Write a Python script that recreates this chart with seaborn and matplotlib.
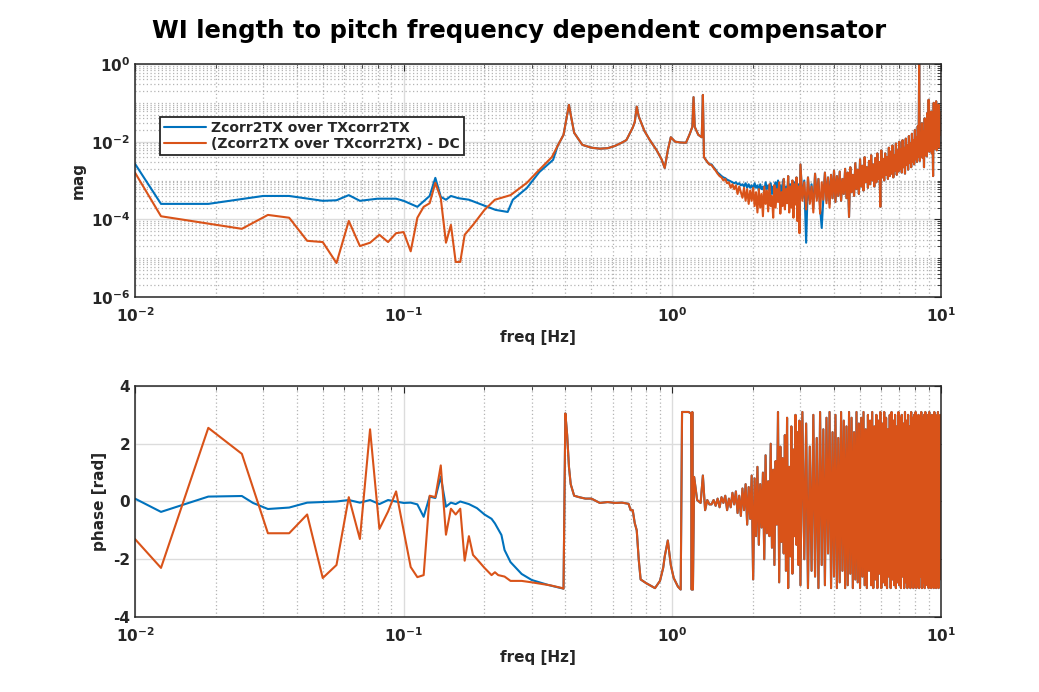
import numpy as np
import matplotlib
matplotlib.use("Agg")
import matplotlib.pyplot as plt
import matplotlib.ticker as mticker
import seaborn as sns

# ---- data ----
# low frequency part, magnitude
blue_lo_freq = [0.0100, 0.0125, 0.01875, 0.0300, 0.0375, 0.0500, 0.05625, 0.0625, 0.06875,
                0.0800, 0.09375, 0.1000, 0.1125, 0.1250, 0.13125, 0.1375, 0.14375, 0.1500,
                0.1600, 0.1750, 0.1950, 0.2200, 0.2440, 0.2550, 0.2875, 0.3200, 0.3600]
blue_lo_mag = [2.7e-3, 2.5e-4, 2.5e-4, 4.0e-4, 4.0e-4, 3.0e-4, 3.1e-4, 4.2e-4, 3.0e-4,
               3.4e-4, 3.4e-4, 3.0e-4, 2.1e-4, 4.0e-4, 1.17e-3, 3.8e-4, 3.2e-4, 4.0e-4,
               3.5e-4, 3.2e-4, 2.4e-4, 1.75e-4, 1.55e-4, 3.2e-4, 6.4e-4, 1.65e-3, 3.4e-3]

orng_lo_freq = [0.0100, 0.0125, 0.0250, 0.03125, 0.0375, 0.04375, 0.0500, 0.05625, 0.0625,
                0.06875, 0.0750, 0.08125, 0.0875, 0.09375, 0.1000, 0.10625, 0.1125, 0.11875,
                0.1250, 0.13125, 0.1375, 0.14375, 0.1500, 0.15625, 0.1625, 0.16875, 0.18125,
                0.2000, 0.21875, 0.2500, 0.2875, 0.3125, 0.35625]
orng_lo_mag = [1.6e-3, 1.2e-4, 5.7e-5, 1.3e-4, 1.1e-4, 2.8e-5, 2.6e-5, 7.5e-6, 9.1e-5,
               2.05e-5, 2.5e-5, 4.0e-5, 2.6e-5, 4.4e-5, 4.7e-5, 1.5e-5, 1.1e-4, 2.1e-4,
               2.6e-4, 8.7e-4, 3.5e-4, 2.5e-5, 7.2e-5, 8.0e-6, 8.0e-6, 4.0e-5, 7.2e-5,
               1.75e-4, 3.2e-4, 4.2e-4, 8.7e-4, 1.6e-3, 4.0e-3]

# resonance part, shared by both traces
mid_mag_freq = [0.3750, 0.39375, 0.40625, 0.4125, 0.41875, 0.43125, 0.4625, 0.5000, 0.5375,
                0.5750, 0.6125, 0.6500, 0.6750, 0.7000, 0.7125, 0.7250, 0.7375, 0.7500,
                0.7875, 0.8250, 0.8750, 0.9125, 0.9375, 0.9625, 0.9875, 1.0250, 1.0750,
                1.1250, 1.1625, 1.1875, 1.2000, 1.2125, 1.2500, 1.2875, 1.3000, 1.3125,
                1.3500, 1.3750]
mid_mag = [8.0e-3, 1.5e-2, 5.0e-2, 8.9e-2, 5.0e-2, 1.7e-2, 8.3e-3, 7.0e-3, 6.6e-3,
           6.8e-3, 7.8e-3, 9.5e-3, 1.1e-2, 1.8e-2, 2.3e-2, 3.2e-2, 8.0e-2, 4.5e-2,
           1.9e-2, 1.1e-2, 6.0e-3, 3.5e-3, 2.1e-3, 6.0e-3, 1.3e-2, 1.0e-2, 9.5e-3,
           9.4e-3, 1.6e-2, 2.4e-2, 1.4e-1, 2.4e-2, 1.5e-2, 1.3e-2, 1.6e-1, 4.0e-3,
           3.0e-3, 2.6e-3]

# noisy high frequency part
hf_freq = [1.400, 1.425, 1.450, 1.475, 1.500, 1.525, 1.550, 1.575, 1.600, 1.625, 1.650, 1.675,
           1.700, 1.725, 1.750, 1.775, 1.800, 1.825, 1.850, 1.875, 1.900, 1.925, 1.950, 1.975,
           2.000, 2.025, 2.050, 2.075, 2.100, 2.125, 2.150, 2.175, 2.200, 2.225, 2.250, 2.275,
           2.300, 2.325, 2.350, 2.375, 2.400, 2.425, 2.450, 2.475, 2.500, 2.525, 2.550, 2.575,
           2.600, 2.625, 2.650, 2.675, 2.700, 2.725, 2.750, 2.775,
           2.800, 2.825, 2.850, 2.875, 2.900, 2.925, 2.950, 2.975,
           3.00, 3.05, 3.10, 3.15, 3.20, 3.25, 3.30, 3.35, 3.40, 3.45,
           3.50, 3.55, 3.60, 3.65, 3.70, 3.75, 3.80, 3.85, 3.90, 3.95,
           4.00, 4.05, 4.10, 4.15, 4.20, 4.25, 4.30, 4.35, 4.40, 4.45,
           4.50, 4.55, 4.60, 4.65, 4.70, 4.75, 4.80, 4.85, 4.90, 4.95,
           5.00, 5.05, 5.10, 5.15, 5.20, 5.25, 5.30, 5.35, 5.40, 5.45,
           5.50, 5.55, 5.60, 5.65, 5.70, 5.75, 5.80, 5.85, 5.90, 5.95,
           6.00, 6.05, 6.10, 6.15, 6.20, 6.25, 6.30, 6.35, 6.40, 6.45,
           6.50, 6.55, 6.60, 6.65, 6.70, 6.75, 6.80, 6.85, 6.90, 6.95,
           7.00, 7.05, 7.10, 7.15, 7.20, 7.25, 7.30, 7.35, 7.40, 7.45,
           7.50, 7.55, 7.60, 7.65, 7.70, 7.75, 7.80, 7.85, 7.90, 7.95,
           8.00, 8.05, 8.10, 8.15, 8.20, 8.25, 8.30, 8.35, 8.40, 8.45,
           8.50, 8.55, 8.60, 8.65, 8.70, 8.75, 8.80, 8.85, 8.90, 8.95,
           9.00, 9.05, 9.10, 9.15, 9.20, 9.25, 9.30, 9.35, 9.40, 9.45,
           9.50, 9.55, 9.60, 9.65, 9.70, 9.75, 9.80, 9.85, 9.90, 9.95,
           10.0]
orng_hf_mag = [2.5e-3, 2.1e-3, 1.8e-3, 1.5e-3, 1.3e-3, 1.2e-3, 1.0e-3, 1.1e-3, 8.5e-4, 9.0e-4, 6.5e-4, 8.0e-4,
               6.0e-4, 7.5e-4, 4.5e-4, 7.0e-4, 5.0e-4, 3.6e-4, 6.5e-4, 3.0e-4, 6.0e-4, 2.5e-4, 5.5e-4, 3.0e-4,
               6.5e-4, 2.2e-4, 5.0e-4, 1.5e-4, 6.0e-4, 2.0e-4, 4.5e-4, 1.2e-4, 7.0e-4, 2.5e-4, 5.5e-4, 1.6e-4,
               8.0e-4, 2.2e-4, 4.0e-4, 1.1e-4, 7.5e-4, 2.0e-4, 6.0e-4, 2.8e-4, 9.0e-4, 1.4e-4, 5.0e-4, 2.2e-4,
               1.1e-3, 1.8e-4, 6.0e-4, 2.6e-4, 1.3e-3, 1.5e-4, 7.0e-4, 2.0e-4,
               1.0e-3, 1.1e-4, 8.0e-4, 2.4e-4, 1.2e-3, 9.0e-5, 7.0e-4, 4.4e-5,
               2.6e-3, 3.0e-4, 9.0e-4, 1.8e-4, 1.2e-3, 2.5e-4, 7.0e-4, 1.5e-4, 1.5e-3, 3.0e-4,
               1.1e-3, 1.4e-4, 9.0e-4, 3.2e-4, 1.6e-3, 2.6e-4, 1.2e-3, 2.0e-4, 1.4e-3, 3.5e-4,
               1.8e-3, 2.8e-4, 1.3e-3, 4.0e-4, 1.7e-3, 3.0e-4, 1.1e-3, 4.5e-4, 2.0e-3, 3.5e-4,
               1.6e-3, 1.15e-4, 2.2e-3, 5.0e-4, 1.4e-3, 4.0e-4, 2.8e-3, 6.0e-4, 1.9e-3, 4.5e-4,
               3.5e-3, 7.0e-4, 2.4e-3, 5.5e-4, 4.0e-3, 9.0e-4, 2.2e-3, 6.5e-4, 3.2e-3, 8.0e-4,
               4.5e-3, 1.0e-3, 2.6e-3, 7.0e-4, 3.8e-3, 9.0e-4, 5.0e-3, 1.1e-3, 3.0e-3, 2.1e-4,
               6.0e-3, 1.2e-3, 3.6e-3, 1.0e-3, 5.0e-3, 1.4e-3, 4.0e-3, 1.1e-3, 7.0e-3, 1.3e-3,
               5.5e-3, 1.5e-3, 8.0e-3, 1.2e-3, 4.5e-3, 1.8e-3, 9.0e-3, 1.4e-3, 6.0e-3, 1.7e-3,
               1.0e-2, 2.0e-3, 6.5e-3, 1.6e-3, 1.1e-2, 2.2e-3, 7.0e-3, 1.5e-3, 1.2e-2, 2.5e-3,
               8.0e-3, 1.9e-3, 1.4e-2, 2.8e-3, 9.0e-3, 2.2e-3, 1.6e-2, 3.0e-3, 1.1e-2, 2.6e-3,
               2.0e-2, 3.5e-3, 1.3e-2, 3.0e-3, 2.5e-2, 4.0e-3, 1.0e0, 3.2e-3, 1.5e-2, 4.5e-3,
               3.0e-2, 3.8e-3, 1.8e-2, 2.2e-3, 4.0e-2, 5.0e-3, 2.2e-2, 4.2e-3, 5.5e-2, 6.0e-3,
               1.2e-1, 5.5e-3, 3.5e-2, 7.0e-3, 6.0e-2, 5.0e-3, 2.5e-2, 1.3e-3, 1.0e-1, 6.5e-3,
               5.0e-2, 8.0e-3, 1.1e-1, 6.0e-3, 4.5e-2, 1.0e-2, 9.0e-2, 7.0e-3, 6.0e-2, 1.5e-2,
               4.0e-2]
# blue sits a bit higher between 1.4 and 4 Hz, then hides under the orange trace
blue_hf_mag = [2.6e-3, 2.2e-3, 1.9e-3, 1.6e-3, 1.45e-3, 1.3e-3, 1.2e-3, 1.15e-3, 1.05e-3, 1.0e-3, 9.5e-4, 9.0e-4,
               8.5e-4, 9.0e-4, 8.0e-4, 8.5e-4, 7.5e-4, 8.0e-4, 7.0e-4, 8.5e-4, 6.5e-4, 8.0e-4, 6.5e-4, 7.5e-4,
               6.0e-4, 8.5e-4, 6.5e-4, 7.5e-4, 5.5e-4, 8.0e-4, 6.0e-4, 7.0e-4, 5.0e-4, 9.0e-4, 6.0e-4, 7.5e-4,
               5.5e-4, 8.5e-4, 4.5e-4, 7.0e-4, 6.0e-4, 9.0e-4, 5.0e-4, 1.0e-3, 4.0e-4, 7.5e-4, 3.5e-4, 8.0e-4,
               1.1e-3, 3.5e-4, 7.0e-4, 3.0e-4, 1.3e-3, 2.5e-4, 8.0e-4, 2.6e-4,
               1.0e-3, 1.8e-4, 9.0e-4, 3.0e-4, 1.2e-3, 1.5e-4, 8.0e-4, 1.2e-4,
               2.6e-3, 3.5e-4, 1.0e-3, 2.5e-5, 1.2e-3, 3.0e-4, 8.0e-4, 2.0e-4, 1.5e-3, 3.5e-4,
               1.1e-3, 2.0e-4, 6.0e-5, 3.5e-4, 1.6e-3, 3.0e-4, 1.2e-3, 2.5e-4, 1.4e-3, 3.5e-4]

# phase
blue_lo_ph_freq = [0.0100, 0.0125, 0.0150, 0.01875, 0.0250, 0.0275, 0.03125, 0.0375, 0.04375,
                   0.05625, 0.0625, 0.06875, 0.0750, 0.08125, 0.0875, 0.1000, 0.10625, 0.1125,
                   0.11875, 0.1250, 0.13125, 0.1375, 0.14375, 0.1500, 0.15625, 0.1625, 0.1750,
                   0.1875, 0.2000, 0.2125, 0.21875, 0.23125, 0.2375, 0.2500, 0.2750, 0.3000, 0.3450]
blue_lo_ph = [0.1, -0.36, -0.12, 0.17, 0.19, -0.05, -0.26, -0.21, -0.04,
              0.0, 0.05, -0.04, 0.05, -0.09, 0.05, -0.05, -0.04, -0.1,
              -0.53, 0.17, 0.12, 0.86, -0.18, -0.04, -0.09, 0.0, -0.09,
              -0.23, -0.45, -0.6, -0.76, -1.16, -1.68, -2.1, -2.51, -2.72, -2.89]

orng_lo_ph_freq = [0.0100, 0.0125, 0.01875, 0.0250, 0.03125, 0.0375, 0.04375, 0.0500, 0.05625,
                   0.0625, 0.06875, 0.0750, 0.08125, 0.0875, 0.09375, 0.10625, 0.1125, 0.11875,
                   0.1250, 0.13125, 0.1375, 0.14375, 0.1500, 0.15625, 0.1625, 0.16875, 0.1750,
                   0.18125, 0.1875, 0.2000, 0.2125, 0.21875, 0.2250, 0.2375, 0.2500, 0.2750,
                   0.3000, 0.3500, 0.3900]
orng_lo_ph = [-1.3, -2.3, 2.55, 1.65, -1.1, -1.1, -0.45, -2.65, -2.2,
              0.15, -1.3, 2.5, -0.95, -0.35, 0.35, -2.27, -2.62, -2.55,
              0.2, 0.15, 1.25, -1.15, -0.25, -0.45, -0.25, -2.05, -1.2,
              -1.85, -2.0, -2.3, -2.55, -2.45, -2.55, -2.6, -2.75, -2.75,
              -2.8, -2.9, -3.0]

mid_ph_freq = [0.39375, 0.4000, 0.40625, 0.4125, 0.41875, 0.43125, 0.4500, 0.4750, 0.5000,
               0.5375, 0.5750, 0.6125, 0.6500, 0.6875, 0.7000, 0.7125, 0.7250, 0.7375,
               0.7500, 0.7625, 0.8000, 0.8625, 0.9000, 0.9250, 0.9375, 0.9625, 0.9875,
               1.0125, 1.0500, 1.0750, 1.0875, 1.1500, 1.1750, 1.1812, 1.1875, 1.1937,
               1.2062, 1.2375, 1.2750, 1.3000, 1.3250, 1.3500, 1.3750]
mid_ph = [-3.02, 3.05, 2.3, 1.2, 0.6, 0.2, 0.15, 0.1, 0.1,
          -0.05, -0.02, -0.05, -0.04, -0.08, -0.3, -0.3, -0.75, -1.0,
          -2.0, -2.7, -2.83, -3.0, -2.75, -2.3, -1.9, -1.35, -2.2,
          -2.65, -2.95, -3.05, 3.1, 3.1, 3.05, -3.05, 3.1, -3.05,
          0.85, 0.05, -0.05, 0.9, -0.3, 0.05, -0.1]

hf_ph = [-0.1, 0.05, -0.15, 0.1, -0.2, 0.15, -0.05, 0.2, -0.3, 0.1, -0.2, 0.3,
         -0.1, 0.35, -0.4, 0.2, -0.5, 0.45, -0.3, 0.6, -0.8, 0.5, -0.6, 0.9,
         -2.7, 0.8, -1.2, 1.2, -1.5, 0.6, -0.9, 1.0, -2.0, 1.6, -1.1, 0.7,
         -1.2, 2.0, -1.6, 1.1, -2.2, 1.4, -0.8, 3.1, -2.8, 1.9, -1.4, 1.5,
         -1.8, 2.3, -2.4, 2.9, -3.0, 1.2, -1.9, 2.6,
         -2.5, 1.8, -1.2, 3.0, -1.5, 2.4, -2.2, 2.8,
         -2.9, 3.1, -2.0, 2.7, -3.0, 1.9, -2.4, 3.0, -2.6, 2.2,
         -3.0, 3.1, -2.2, 2.5, -2.9, 2.9, -1.8, 3.1, -3.0, 2.4,
         -2.6, 3.0, -3.0, 2.2, -2.8, 3.1, -2.4, 2.8, -3.0, 2.6,
         -2.9, 3.1, -2.5, 2.9, -3.0, 2.4, -2.7, 3.1, -2.8, 2.7,
         -3.0, 2.9, -2.6, 3.1, -2.9, 2.5, -3.0, 3.0, -2.4, 2.8,
         -2.9, 3.1, -3.0, 2.6, -2.7, 3.0, -3.0, 2.8, -2.5, 3.1,
         -3.0, 2.7, -2.8, 3.1, -2.9, 2.9, -3.0, 2.5, -2.6, 3.0,
         -3.0, 3.1, -2.7, 2.8, -2.9, 3.0, -3.0, 2.6, -2.8, 3.1,
         -2.9, 2.9, -3.0, 3.0, -2.6, 2.7, -3.0, 3.1, -2.8, 2.8,
         -3.0, 3.0, -2.9, 2.6, -3.0, 3.1, -2.7, 2.9, -3.0, 3.0,
         -2.8, 3.1, -3.0, 2.8, -2.9, 3.0, -3.0, 2.7, -2.6, 3.1,
         -3.0, 2.9, -2.8, 3.0, -3.0, 3.1, -2.7, 2.8, -2.9, 3.0,
         -3.0, 3.1, -2.8, 2.9, -3.0, 3.0, -2.6, 2.8, -3.0, 3.1,
         -2.9, 3.0, -3.0, 2.7, -2.8, 3.1, -3.0, 2.9, -2.7, 3.0,
         0.3]

labels = ["Zcorr2TX over TXcorr2TX", "(Zcorr2TX over TXcorr2TX) - DC"]
c_blue = "#0072BD"
c_orng = "#D95319"

# ---- assemble series ----
n_b = len(blue_hf_mag)
blue_f = blue_lo_freq + mid_mag_freq + hf_freq
blue_m = blue_lo_mag + mid_mag + blue_hf_mag + orng_hf_mag[n_b:]
orng_f = orng_lo_freq + mid_mag_freq + hf_freq
orng_m = orng_lo_mag + mid_mag + orng_hf_mag
blue_pf = blue_lo_ph_freq + mid_ph_freq + hf_freq
blue_p = blue_lo_ph + mid_ph + hf_ph
orng_pf = orng_lo_ph_freq + mid_ph_freq + hf_freq
orng_p = orng_lo_ph + mid_ph + hf_ph

sns.set_theme(style="white")
plt.rcParams["font.family"] = ["DejaVu Sans"]
plt.rcParams["font.weight"] = "bold"
plt.rcParams["axes.labelweight"] = "bold"

fig = plt.figure(figsize=(10.39, 6.92), dpi=100)
ax1 = fig.add_axes([0.1299, 0.5708, 0.7757, 0.3367])
ax2 = fig.add_axes([0.1299, 0.1084, 0.7757, 0.3338])

sns.lineplot(x=blue_f, y=blue_m, ax=ax1, color=c_blue, linewidth=1.5, estimator=None, sort=False, label=labels[0])
sns.lineplot(x=orng_f, y=orng_m, ax=ax1, color=c_orng, linewidth=1.5, estimator=None, sort=False, label=labels[1])
sns.lineplot(x=blue_pf, y=blue_p, ax=ax2, color=c_blue, linewidth=1.5, estimator=None, sort=False)
sns.lineplot(x=orng_pf, y=orng_p, ax=ax2, color=c_orng, linewidth=1.5, estimator=None, sort=False)

xt = [0.01, 0.1, 1, 10]
xtl = [r"$\mathbf{10^{-2}}$", r"$\mathbf{10^{-1}}$", r"$\mathbf{10^{0}}$", r"$\mathbf{10^{1}}$"]

for ax in (ax1, ax2):
    ax.set_xscale("log")
    ax.set_xlim(0.01, 10)
    ax.set_xticks(xt)
    ax.set_xticklabels(xtl)
    ax.xaxis.set_minor_locator(mticker.LogLocator(base=10, subs=np.arange(2, 10), numticks=20))
    ax.xaxis.set_minor_formatter(mticker.NullFormatter())
    ax.grid(True, which="major", color="#dcdcdc", linestyle="-", linewidth=1.0)
    ax.grid(True, which="minor", axis="x", color="#b4b4b4", linestyle=(0, (1, 2)), linewidth=0.9)
    ax.tick_params(which="both", direction="in", top=True, right=True, colors="#262626",
                   labelsize=11, labelcolor="#262626")
    ax.tick_params(which="major", length=5, width=0.8)
    ax.tick_params(which="minor", length=3, width=0.6)
    ax.tick_params(axis="x", which="major", pad=7)
    for s in ax.spines.values():
        s.set_color("#262626")
        s.set_linewidth(1.1)
    ax.set_xlabel("freq [Hz]", fontsize=11, fontweight="bold", color="#262626", labelpad=3)
    ax.set_axisbelow(True)

ax1.set_yscale("log")
ax1.set_ylim(1e-6, 1)
ax1.set_yticks([1e-6, 1e-4, 1e-2, 1])
ax1.set_yticklabels([r"$\mathbf{10^{-6}}$", r"$\mathbf{10^{-4}}$", r"$\mathbf{10^{-2}}$", r"$\mathbf{10^{0}}$"])
ax1.yaxis.set_minor_locator(mticker.LogLocator(base=10, subs=np.arange(1, 10), numticks=20))
ax1.yaxis.set_minor_formatter(mticker.NullFormatter())
ax1.grid(True, which="minor", axis="y", color="#b4b4b4", linestyle=(0, (1, 2)), linewidth=0.9)
ax1.set_ylabel("mag", fontsize=11, fontweight="bold", color="#262626")

ax2.set_ylim(-4, 4)
ax2.set_yticks([-4, -2, 0, 2, 4])
ax2.set_yticklabels(["-4", "-2", "0", "2", "4"])
ax2.set_ylabel("phase [rad]", fontsize=11, fontweight="bold", color="#262626")

leg = ax1.legend(loc="upper left", bbox_to_anchor=(0.031, 0.773), borderaxespad=0,
                 prop={"weight": "bold", "size": 10}, frameon=True, fancybox=False,
                 handlelength=3.0, handletextpad=0.4, borderpad=0.3, labelspacing=0.15)
leg.get_frame().set_edgecolor("#262626")
leg.get_frame().set_linewidth(1.3)
leg.get_frame().set_alpha(1)

fig.text(0.4995, 1 - 31 / 692, "WI length to pitch frequency dependent compensator",
         ha="center", va="center", fontsize=17.5, fontweight="bold", color="black")

fig.savefig("out.png", dpi=100)
